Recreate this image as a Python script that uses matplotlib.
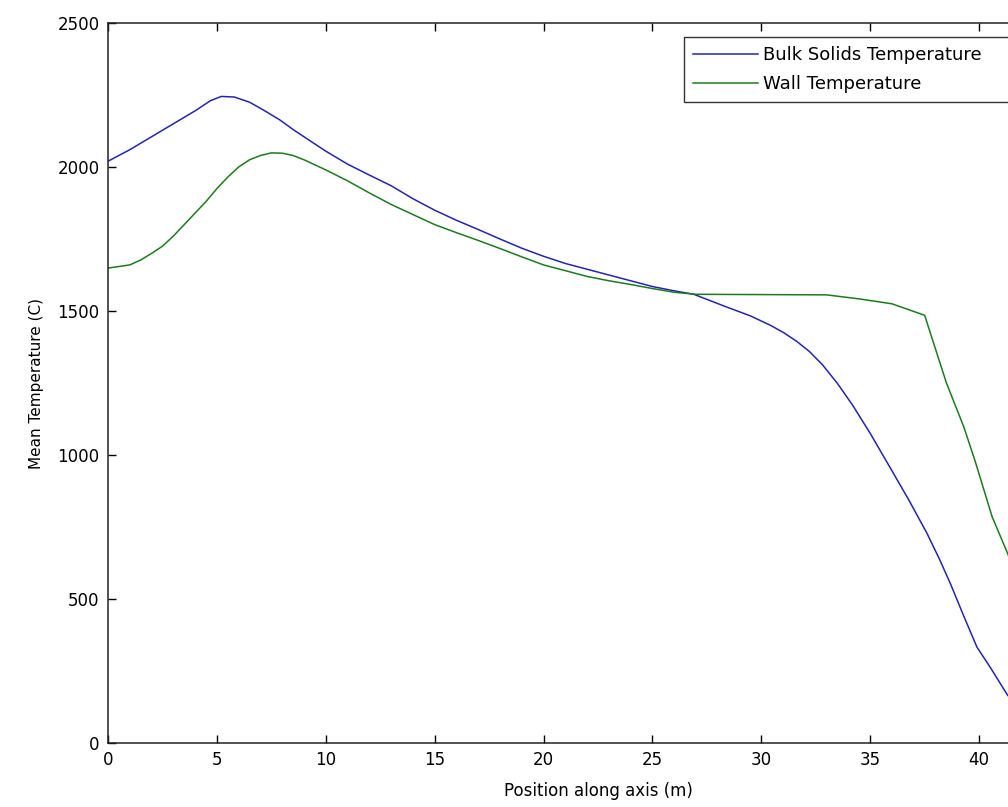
import numpy as np
import matplotlib
matplotlib.use("Agg")
import matplotlib.pyplot as plt

# bulk solids temperature
bulk_x = [0, 1, 2, 3, 4, 4.7, 5.2, 5.8, 6.5, 7.2, 7.9, 8.5, 9.2, 10, 11, 12,
          13, 14, 15, 16, 17, 18, 19, 20, 21, 22, 23, 24, 25, 26, 26.9, 28.4,
          29.5, 30.4, 31, 31.6, 32.2, 32.8, 33.5, 34.2, 35, 35.9, 36.8, 37.6,
          38.2, 38.7, 39.3, 39.9, 40.5, 41.3, 41.6]
bulk_T = [2020, 2060, 2105, 2150, 2195, 2230, 2245, 2243, 2225, 2195, 2163,
          2130, 2095, 2055, 2010, 1972, 1935, 1890, 1850, 1815, 1783, 1750,
          1718, 1690, 1665, 1645, 1625, 1605, 1585, 1570, 1558, 1514, 1483,
          1451, 1426, 1396, 1360, 1314, 1248, 1172, 1075, 958, 840, 729, 635,
          550, 440, 333, 264, 167, 140]

# wall temperature
wall_x = [0, 1, 1.5, 2, 2.5, 3, 3.5, 4, 4.5, 5, 5.5, 6, 6.5, 7, 7.5, 8, 8.5,
          9, 10, 11, 12, 13, 14, 15, 16, 17, 18, 19, 20, 21, 22, 23, 24, 25,
          26, 27, 30, 33, 34.5, 36, 37.5, 38.5, 39.3, 39.8, 40.6, 41.3, 41.6]
wall_T = [1649, 1660, 1677, 1700, 1725, 1760, 1800, 1840, 1880, 1925, 1965,
          2000, 2025, 2040, 2049, 2048, 2040, 2025, 1990, 1952, 1910, 1870,
          1835, 1800, 1772, 1745, 1717, 1688, 1660, 1640, 1620, 1605, 1592,
          1578, 1565, 1558, 1557, 1556, 1542, 1525, 1485, 1250, 1097, 983,
          785, 660, 600]

xticks = np.arange(0, 45, 5)
yticks = np.arange(0, 3000, 500)

plt.rcParams['font.family'] = ['DejaVu Sans']

fig = plt.figure(figsize=(10.08, 8.07), dpi=100)
# axes run past the right edge, as in the cropped original
ax = fig.add_axes([108/1008, 1 - 743/807, 980/1008, 720/807])

ax.plot(bulk_x, bulk_T, color="#2424b4", linewidth=1.1, label="Bulk Solids Temperature")
ax.plot(wall_x, wall_T, color="#1e7a1e", linewidth=1.1, label="Wall Temperature")

ax.set_xlim(0, 45)
ax.set_ylim(0, 2500)
ax.set_xticks(xticks)
ax.set_yticks(yticks)
ax.tick_params(direction="in", top=True, right=True, length=6, width=1,
               labelsize=12, pad=6)
for s in ax.spines.values():
    s.set_linewidth(1.1)
    s.set_color("#222222")

ax.set_xlabel("Position along axis (m)", fontsize=12, labelpad=9)
ax.set_ylabel("Mean Temperature (C)", fontsize=11, labelpad=10)

leg = ax.legend(loc="upper left",
                bbox_to_anchor=(684/1008, 1 - 103/807, 394/1008, 66/807),
                bbox_transform=fig.transFigure, mode="expand",
                fontsize=13, frameon=True, fancybox=False,
                edgecolor="black", handlelength=3.6, handletextpad=0.25,
                borderpad=0.5, labelspacing=0.6, borderaxespad=0)
leg.get_frame().set_linewidth(1.0)

fig.savefig("out.png", dpi=100)
